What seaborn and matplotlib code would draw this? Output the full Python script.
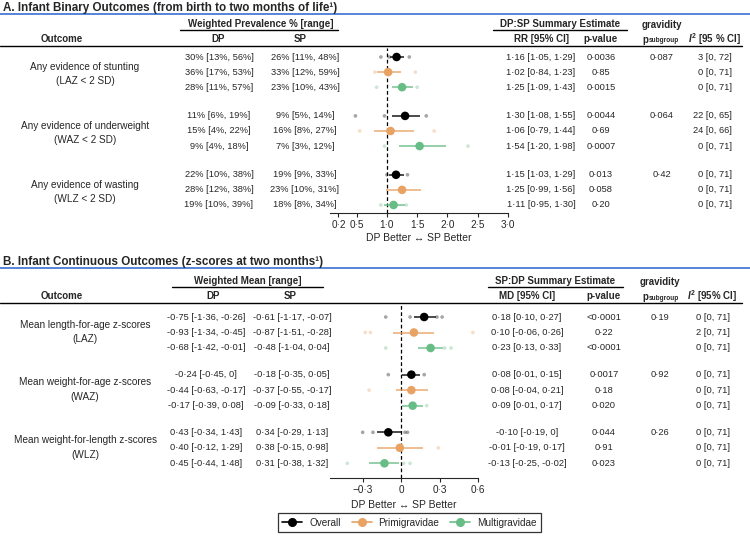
import numpy as np
import pandas as pd
import seaborn as sns
import matplotlib.pyplot as plt
import matplotlib.transforms as mtransforms
from matplotlib.lines import Line2D

# ---- data: panel A (binary outcomes, RR) ----
groups = ["Overall", "Primigravidae", "Multigravidae"]
a_outcomes = [("Any evidence of stunting", "(LAZ < 2 SD)"),
              ("Any evidence of underweight", "(WAZ < 2 SD)"),
              ("Any evidence of wasting", "(WLZ < 2 SD)")]
a_dp = ["30% [13%, 56%]", "36% [17%, 53%]", "28% [11%, 57%]",
        "11% [6%, 19%]", "15% [4%, 22%]", "9% [4%, 18%]",
        "22% [10%, 38%]", "28% [12%, 38%]", "19% [10%, 39%]"]
a_sp = ["26% [11%, 48%]", "33% [12%, 59%]", "23% [10%, 43%]",
        "9% [5%, 14%]", "16% [8%, 27%]", "7% [3%, 12%]",
        "19% [9%, 33%]", "23% [10%, 31%]", "18% [8%, 34%]"]
a_est = [1.16, 1.02, 1.25, 1.30, 1.06, 1.54, 1.15, 1.25, 1.11]
a_lo = [1.05, 0.84, 1.09, 1.08, 0.79, 1.20, 1.03, 0.99, 0.95]
a_hi = [1.29, 1.23, 1.43, 1.55, 1.44, 1.98, 1.29, 1.56, 1.30]
a_pval = ["0·0036", "0·85", "0·0015", "0·0044", "0·69", "0·0007", "0·013", "0·058", "0·20"]
a_psub = ["0·087", "0·064", "0·42"]
a_i2 = ["3 [0, 72]", "0 [0, 71]", "0 [0, 71]", "22 [0, 65]", "24 [0, 66]", "0 [0, 71]",
        "0 [0, 71]", "0 [0, 71]", "0 [0, 71]"]
# individual study estimates (faint dots), by row
a_studies = [[0.90, 1.04, 1.37], [0.80, 1.47], [0.83, 1.50],
             [0.48, 0.96, 1.65], [0.55, 1.78], [0.96, 2.34],
             [1.00, 1.34], [], [0.90, 1.32]]
a_ticks = [0.2, 0.5, 1.0, 1.5, 2.0, 2.5, 3.0]
a_ticklabels = ["0·2", "0·5", "1·0", "1·5", "2·0", "2·5", "3·0"]

# ---- data: panel B (continuous outcomes, MD) ----
b_outcomes = [("Mean length-for-age z-scores", "(LAZ)"),
              ("Mean weight-for-age z-scores", "(WAZ)"),
              ("Mean weight-for-length z-scores", "(WLZ)")]
b_dp = ["-0·75 [-1·36, -0·26]", "-0·93 [-1·34, -0·45]", "-0·68 [-1·42, -0·01]",
        "-0·24 [-0·45, 0]", "-0·44 [-0·63, -0·17]", "-0·17 [-0·39, 0·08]",
        "0·43 [-0·34, 1·43]", "0·40 [-0·12, 1·29]", "0·45 [-0·44, 1·48]"]
b_sp = ["-0·61 [-1·17, -0·07]", "-0·87 [-1·51, -0·28]", "-0·48 [-1·04, 0·04]",
        "-0·18 [-0·35, 0·05]", "-0·37 [-0·55, -0·17]", "-0·09 [-0·33, 0·18]",
        "0·34 [-0·29, 1·13]", "0·38 [-0·15, 0·98]", "0·31 [-0·38, 1·32]"]
b_est = [0.18, 0.10, 0.23, 0.08, 0.08, 0.09, -0.10, -0.01, -0.13]
b_lo = [0.10, -0.06, 0.13, 0.01, -0.04, 0.01, -0.19, -0.19, -0.25]
b_hi = [0.27, 0.26, 0.33, 0.15, 0.21, 0.17, 0.00, 0.17, -0.02]
b_ci = ["0·18 [0·10, 0·27]", "0·10 [-0·06, 0·26]", "0·23 [0·13, 0·33]",
        "0·08 [0·01, 0·15]", "0·08 [-0·04, 0·21]", "0·09 [0·01, 0·17]",
        "-0·10 [-0·19, 0]", "-0·01 [-0·19, 0·17]", "-0·13 [-0·25, -0·02]"]
b_pval = ["<0·0001", "0·22", "<0·0001", "0·0017", "0·18", "0·020", "0·044", "0·91", "0·023"]
b_psub = ["0·19", "0·92", "0·26"]
b_i2 = ["0 [0, 71]", "2 [0, 71]", "0 [0, 71]", "0 [0, 71]", "0 [0, 71]", "0 [0, 71]",
        "0 [0, 71]", "0 [0, 71]", "0 [0, 71]"]
b_studies = [[-0.12, 0.07, 0.28, 0.32], [-0.28, -0.24, 0.56], [-0.12, 0.34, 0.39],
             [-0.10, 0.18], [-0.25], [0.20],
             [-0.30, -0.22, 0.03, 0.05], [0.29], [-0.42, 0.02, 0.07]]
b_ticks = [-0.3, 0, 0.3, 0.6]
b_ticklabels = ["\u22120·3", "0", "0·3", "0·6"]

palette = {"Overall": "#000000", "Primigravidae": "#E8A263", "Multigravidae": "#68BD86"}

sns.set_style("white")
plt.rcParams["font.family"] = ["Liberation Sans", "DejaVu Sans"]
plt.rcParams["mathtext.fontset"] = "custom"
plt.rcParams["mathtext.rm"] = "Liberation Sans:bold"
plt.rcParams["mathtext.it"] = "Liberation Sans:italic:bold"

W, H = 750, 543
fig = plt.figure(figsize=(7.5, 5.43), dpi=100)

def fx(x):
    return x / W

def fy(y):
    return 1 - y / H

def hline(y, x0, x1, color="black", lw=1.0):
    fig.add_artist(Line2D([fx(x0), fx(x1)], [fy(y), fy(y)], color=color, lw=lw,
                          transform=fig.transFigure))

FS = 6.7   # table values
FL = 7.2   # outcome labels
FH = 7.0   # headers


def panel(top, title, est, lo, hi, studies, ax_box, gap, ylims, xlim,
          ticks, ticklabels, ref, outcomes, dp, sp, ci_txt, pval, psub, i2,
          head_left, head_right, ci_head, i2_head, head_y, col_x, labelpad):
    # section title and rules
    fig.text(fx(3), fy(top), title, fontsize=8.4, fontweight="bold", va="center")
    hline(top + 6, 0, 750, color="#3A6FD0", lw=1.2)

    ax = fig.add_axes(ax_box)
    rows = []
    for g in range(3):
        for k, grp in enumerate(groups):
            rows.append({"pos": g * gap + k, "group": grp, "est": est[g * 3 + k],
                         "lo": lo[g * 3 + k], "hi": hi[g * 3 + k]})
    df = pd.DataFrame(rows)

    # faint study estimates
    sdots = [{"pos": df.pos[i], "val": v, "group": df.group[i]}
             for i in range(len(df)) for v in studies[i]]
    sdf = pd.DataFrame(sdots)
    sns.scatterplot(data=sdf, x="val", y="pos", hue="group", palette=palette,
                    s=7, alpha=0.35, linewidth=0, legend=False, ax=ax)
    for _, r in df.iterrows():
        ax.hlines(r.pos, r.lo, r.hi, color=palette[r.group], lw=1.1, alpha=0.9)
    sns.scatterplot(data=df, x="est", y="pos", hue="group", palette=palette,
                    s=38, linewidth=0, legend=False, ax=ax, zorder=3)
    ax.axvline(ref, color="black", lw=0.9, ls=(0, (3, 2)), zorder=1)
    ax.set_xlim(*xlim)
    ax.set_ylim(*ylims)
    ax.set_xticks(ticks)
    ax.set_xticklabels(ticklabels, fontsize=FS + 0.5)
    ax.set_yticks([])
    ax.set_xlabel("DP Better \u2194 SP Better", fontsize=FS + 0.8, labelpad=labelpad)
    ax.set_ylabel("")
    ax.tick_params(axis="x", direction="out", length=3, width=0.8, pad=2, bottom=True)
    sns.despine(ax=ax, left=True)
    ax.spines["bottom"].set_linewidth(0.8)
    ax.patch.set_alpha(0)

    tr = mtransforms.blended_transform_factory(fig.transFigure, ax.transData)

    # headers
    hy1, hy2 = head_y
    fig.text(fx(col_x["mid_l"]), fy(hy1), head_left, fontsize=FH, fontweight="bold",
             ha="center", va="center")
    hline(hy1 + 6, col_x["ul_l"][0], col_x["ul_l"][1], lw=1.0)
    fig.text(fx(col_x["mid_r"]), fy(hy1), head_right, fontsize=FH, fontweight="bold",
             ha="center", va="center")
    hline(hy1 + 6, col_x["ul_r"][0], col_x["ul_r"][1], lw=1.0)
    fig.text(fx(62), fy(hy2), "Outcome", fontsize=FH, fontweight="bold",
             ha="center", va="center")
    fig.text(fx(col_x["dph"]), fy(hy2), "DP", fontsize=FH, fontweight="bold",
             ha="center", va="center")
    fig.text(fx(col_x["sph"]), fy(hy2), "SP", fontsize=FH, fontweight="bold",
             ha="center", va="center")
    fig.text(fx(col_x["ci"]), fy(hy2), ci_head, fontsize=FH, fontweight="bold",
             ha="center", va="center")
    fig.text(fx(col_x["p"]), fy(hy2), "p-value", fontsize=FH, fontweight="bold",
             ha="center", va="center")
    fig.text(fx(col_x["ps"]), fy(hy1 + 1), "gravidity", fontsize=FH, fontweight="bold",
             ha="center", va="center")
    fig.text(fx(642), fy(hy2 + 1), "p", fontsize=FH, fontweight="bold",
             ha="left", va="center")
    fig.text(fx(648.5), fy(hy2 + 2), "subgroup", fontsize=4.7, fontweight="bold",
             ha="left", va="center")
    fig.text(fx(col_x["i2"]), fy(hy2), i2_head, fontsize=FH, fontweight="bold",
             ha="center", va="center")
    hline(hy2 + 7, 0, 742, lw=1.0)

    # table rows
    for i, r in df.iterrows():
        fig.text(fx(col_x["dp"]), r.pos, dp[i], transform=tr, fontsize=FS,
                 ha="center", va="center")
        fig.text(fx(col_x["sp"]), r.pos, sp[i], transform=tr, fontsize=FS,
                 ha="center", va="center")
        fig.text(fx(col_x["ci"]), r.pos, ci_txt[i], transform=tr, fontsize=FS,
                 ha="center", va="center")
        fig.text(fx(col_x["p"]), r.pos, pval[i], transform=tr, fontsize=FS,
                 ha="center", va="center")
        fig.text(fx(col_x["i2r"]), r.pos, i2[i], transform=tr, fontsize=FS,
                 ha="right", va="center")
    for g in range(3):
        p0 = g * gap
        fig.text(fx(col_x["ps"]), p0, psub[g], transform=tr, fontsize=FS,
                 ha="center", va="center")
        fig.text(fx(85), p0 + col_x["lab_off"], outcomes[g][0], transform=tr,
                 fontsize=FL, ha="center", va="center")
        fig.text(fx(85), p0 + col_x["lab_off"] + 0.95, outcomes[g][1], transform=tr,
                 fontsize=FL, ha="center", va="center")
    return ax


# panel A geometry: rows 15.1 px apart, axes from y=48 to y=213 px
stepA = 15.1
axA_box = [fx(330), fy(213), (508 - 330) / W, (213 - 48) / H]
ylimA = ((213 - 57) / stepA, -(57 - 48) / stepA)
a_ci = [f"{e:.2f} [{l:.2f}, {h:.2f}]".replace(".", "·") for e, l, h in zip(a_est, a_lo, a_hi)]
colsA = {"mid_l": 261, "ul_l": (180, 338), "mid_r": 560, "ul_r": (493, 627),
         "dp": 219, "sp": 305, "dph": 218, "sph": 300, "ci": 541, "p": 601, "ps": 662,
         "i2": 714, "i2r": 732, "lab_off": 0.65}
panel(8, "A. Infant Binary Outcomes (from birth to two months of life\u00b9)",
      a_est, a_lo, a_hi, a_studies, axA_box, 3.9, ylimA, (0.06, 3.0),
      a_ticks, a_ticklabels, 1.0, a_outcomes, a_dp, a_sp, a_ci, a_pval, a_psub, a_i2,
      "Weighted Prevalence % [range]", "DP:SP Summary Estimate", "RR [95% CI]",
      r"$\mathit{I}^2$ [95 % CI]", (24, 39), colsA, 2)

# panel B geometry: rows 15.5 px apart, axes from y=303 to y=478 px
stepB = 15.5
axB_box = [fx(330), fy(478), (478 - 330) / W, (478 - 303) / H]
ylimB = ((478 - 317) / stepB, -(317 - 303) / stepB)
colsB = {"mid_l": 248, "ul_l": (172, 323), "mid_r": 555, "ul_r": (488, 623),
         "dp": 206, "sp": 292, "dph": 213, "sph": 290, "ci": 527, "p": 604, "ps": 660,
         "i2": 712, "i2r": 730, "lab_off": 0.5}
panel(262, "B. Infant Continuous Outcomes (z-scores at two months\u00b9)",
      b_est, b_lo, b_hi, b_studies, axB_box, 3.72, ylimB, (-0.555, 0.6),
      b_ticks, b_ticklabels, 0.0, b_outcomes, b_dp, b_sp, b_ci, b_pval, b_psub, b_i2,
      "Weighted Mean [range]", "SP:DP Summary Estimate", "MD [95% CI]",
      r"$\mathit{I}^2$ [95% CI]", (281, 296), colsB, 4)

handles = [Line2D([0], [0], color=palette[g], marker="o", markersize=5.5, lw=1.2)
           for g in groups]
leg = fig.legend(handles, groups, loc="center", bbox_to_anchor=(fx(409.5), fy(522.5)),
                 ncol=3, fontsize=FL, frameon=True, fancybox=False, edgecolor="black",
                 handlelength=2.0, columnspacing=1.1, borderpad=0.45, handletextpad=0.7)
leg.get_frame().set_linewidth(0.9)

fig.savefig("out.png", dpi=100)
